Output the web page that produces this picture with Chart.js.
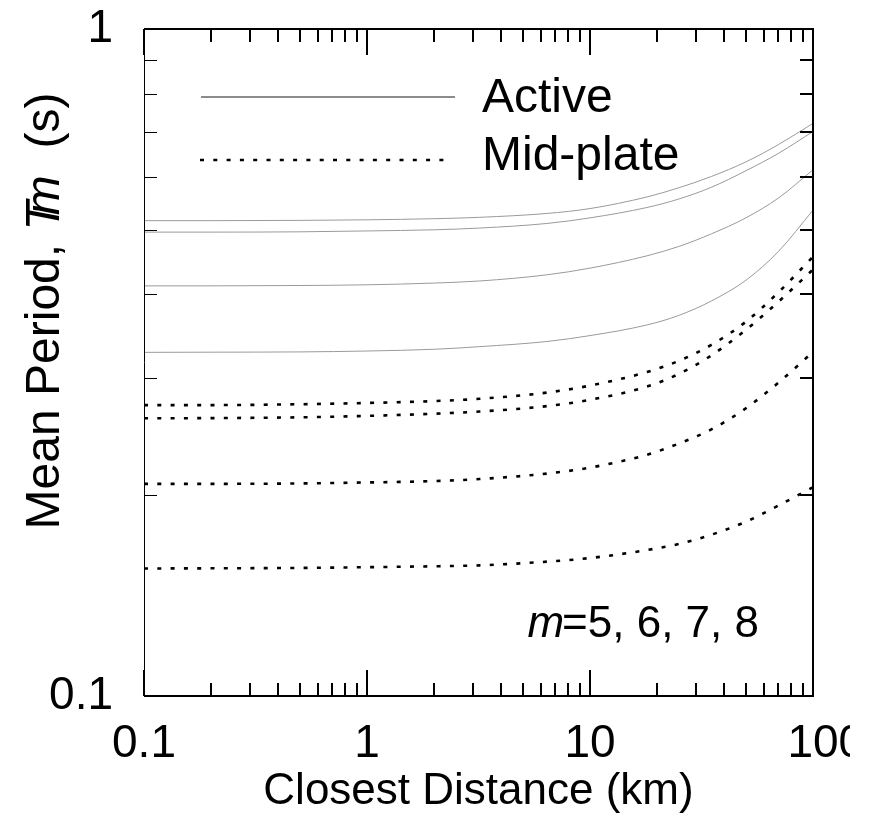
<!DOCTYPE html>
<html><head><meta charset="utf-8">
<script src="https://cdn.jsdelivr.net/npm/chart.js@4.4.1/dist/chart.umd.min.js"></script>
<style>html,body{margin:0;padding:0;background:#fff}#wrap{width:871px;height:820px}</style>
</head><body><div id="wrap"><canvas id="c" width="871" height="820"></canvas></div>
<script>
// ---- data ----
const distances = [0.1, 0.2, 0.5, 1, 2, 3.2, 6.4, 10, 18, 25, 35, 50, 70, 100];
// Active tectonic regions, m = 8, 7, 6, 5
const activeM8 = [0.516, 0.516, 0.5165, 0.5175, 0.5195, 0.522, 0.529, 0.538, 0.560, 0.578, 0.601, 0.632, 0.671, 0.722];
const activeM7 = [0.496, 0.496, 0.4965, 0.498, 0.500, 0.503, 0.511, 0.521, 0.540, 0.556, 0.579, 0.613, 0.651, 0.702];
const activeM6 = [0.412, 0.412, 0.4125, 0.4135, 0.416, 0.419, 0.428, 0.438, 0.457, 0.472, 0.493, 0.521, 0.558, 0.615];
const activeM5 = [0.3275, 0.3277, 0.328, 0.329, 0.331, 0.334, 0.340, 0.347, 0.360, 0.372, 0.391, 0.420, 0.464, 0.535];
// Mid-plate regions, m = 8, 7, 6, 5
const midM8 = [0.273, 0.273, 0.2738, 0.275, 0.2768, 0.279, 0.285, 0.292, 0.306, 0.318, 0.336, 0.364, 0.403, 0.4555];
const midM7 = [0.2608, 0.261, 0.2617, 0.263, 0.265, 0.267, 0.272, 0.278, 0.291, 0.304, 0.324, 0.354, 0.390, 0.436];
const midM6 = [0.208, 0.208, 0.2083, 0.209, 0.210, 0.2115, 0.2155, 0.220, 0.230, 0.239, 0.251, 0.270, 0.295, 0.328];
const midM5 = [0.1553, 0.1554, 0.1556, 0.156, 0.1565, 0.157, 0.159, 0.161, 0.1655, 0.169, 0.1745, 0.1825, 0.193, 0.2056];

const xTickValues = [0.1, 1, 10, 100];
const xTickLabels = ['0.1', '1', '10', '  100'];
const yTickValues = [0.1, 1];
const yTickLabels = ['0.1', '1'];
const legendLabels = ['Active', 'Mid-plate'];
const xTitle = 'Closest Distance (km)';
const yTitleParts = ['Mean Period, ', 'T', 'm', '  (s)'];
const noteParts = ['m', '=5, 6, 7, 8'];

// ---- styling ----
const FONT = "'Liberation Sans', Arial, sans-serif";
const ACTIVE_COLOR = '#9a9a9a';
const MID_COLOR = '#000';
const MID_DASH = [4, 9.3];

function pts(vals){ return distances.map((d,i)=>({x:d, y:vals[i]})); }
function activeSet(vals){ return {data:pts(vals), borderColor:ACTIVE_COLOR, borderWidth:1, pointRadius:0, fill:false, cubicInterpolationMode:'monotone'}; }
function midSet(vals){ return {data:pts(vals), borderColor:MID_COLOR, borderWidth:2.6, borderDash:MID_DASH, borderCapStyle:'butt', pointRadius:0, fill:false, cubicInterpolationMode:'monotone'}; }

const decor = {
  id: 'decor',
  afterDraw(chart){
    const {ctx, chartArea:a, scales:{x, y}} = chart;
    ctx.save();
    // the reference figure is cropped just right of the last x label
    ctx.fillStyle = '#fff';
    ctx.fillRect(850, a.bottom + 4, 21, 80);
    ctx.strokeStyle = '#000';
    // x ticks (inside, top and bottom)
    const decades = [0.1, 1, 10];
    ctx.lineWidth = 2;
    ctx.beginPath();
    decades.forEach(d => {
      for (let k = 2; k <= 9; k++){
        const px = Math.round(x.getPixelForValue(d*k));
        ctx.moveTo(px, a.bottom); ctx.lineTo(px, a.bottom - 13);
        ctx.moveTo(px, a.top); ctx.lineTo(px, a.top + 13);
      }
    });
    xTickValues.forEach(v => {
      const px = Math.round(x.getPixelForValue(v));
      ctx.moveTo(px, a.bottom); ctx.lineTo(px, a.bottom - 26);
      ctx.moveTo(px, a.top); ctx.lineTo(px, a.top + 26);
    });
    ctx.stroke();
    // y minor ticks
    const yMinor = [0.2,0.3,0.4,0.5,0.6,0.7,0.8,0.9];
    ctx.lineWidth = 1;
    ctx.beginPath();
    yMinor.forEach(v => { const py = Math.round(y.getPixelForValue(v)) + 0.5; ctx.moveTo(a.left, py); ctx.lineTo(a.left + 13, py); });
    ctx.stroke();
    ctx.lineWidth = 2;
    ctx.beginPath();
    yMinor.forEach(v => { const py = Math.round(y.getPixelForValue(v)); ctx.moveTo(a.right, py); ctx.lineTo(a.right - 13, py); });
    ctx.stroke();
    // frame
    ctx.lineWidth = 2;
    ctx.beginPath();
    ctx.moveTo(a.left, a.top); ctx.lineTo(a.right, a.top); ctx.lineTo(a.right, a.bottom); ctx.lineTo(a.left, a.bottom);
    ctx.stroke();
    ctx.lineWidth = 1;
    ctx.beginPath(); ctx.moveTo(a.left + 0.5, a.top); ctx.lineTo(a.left + 0.5, a.bottom); ctx.stroke();

    // legend
    ctx.lineWidth = 1.5; ctx.strokeStyle = '#666';
    ctx.beginPath(); ctx.moveTo(201, 97); ctx.lineTo(455, 97); ctx.stroke();
    ctx.lineWidth = 2.6; ctx.strokeStyle = '#000'; ctx.setLineDash(MID_DASH);
    ctx.beginPath(); ctx.moveTo(200, 160); ctx.lineTo(447, 160); ctx.stroke();
    ctx.setLineDash([]);
    ctx.fillStyle = '#000';
    ctx.textBaseline = 'alphabetic'; ctx.textAlign = 'left';
    ctx.font = '48px ' + FONT;
    ctx.fillText(legendLabels[0], 482, 112);
    ctx.fillText(legendLabels[1], 482, 170);

    // note m=5, 6, 7, 8
    const NF = 44;
    ctx.font = 'italic ' + NF + 'px ' + FONT;
    const wM = ctx.measureText(noteParts[0]).width;
    ctx.font = NF + 'px ' + FONT;
    const wR = ctx.measureText(noteParts[1]).width;
    let nx = 759 - (wM + wR - 2);
    ctx.font = 'italic ' + NF + 'px ' + FONT;
    ctx.fillText(noteParts[0], nx, 637);
    ctx.font = NF + 'px ' + FONT;
    ctx.fillText(noteParts[1], nx + wM - 2, 637);

    // y title (rotated)
    ctx.translate(46, 311);
    ctx.rotate(-Math.PI/2);
    ctx.textBaseline = 'middle';
    const fN = '48px ' + FONT, fI = 'italic 48px ' + FONT;
    const fonts = [fN, fI, fI, fN];
    const offs = [0, 0, -14, 0];
    let widths = yTitleParts.map((t,i)=>{ ctx.font = fonts[i]; return ctx.measureText(t).width; });
    let total = widths.reduce((s,w)=>s+w,0) + offs.reduce((s,o)=>s+o,0);
    let cx = -total/2;
    yTitleParts.forEach((t,i)=>{ cx += offs[i]; ctx.font = fonts[i]; ctx.fillText(t, cx, 0); cx += widths[i]; });
    ctx.restore();
  }
};

new Chart(document.getElementById('c'), {
  type: 'line',
  data: {
    datasets: [
      activeSet(activeM8), activeSet(activeM7), activeSet(activeM6), activeSet(activeM5),
      midSet(midM8), midSet(midM7), midSet(midM6), midSet(midM5)
    ]
  },
  options: {
    responsive: false,
    animation: false,
    devicePixelRatio: 1,
    layout: { padding: { top: 29, right: 58, left: 0, bottom: 0 } },
    plugins: { legend: { display: false }, tooltip: { enabled: false } },
    scales: {
      x: {
        type: 'logarithmic', min: 0.1, max: 100, position: 'bottom',
        grid: { display: false, drawTicks: false }, border: { display: false },
        afterBuildTicks: s => { s.ticks = xTickValues.map(v => ({ value: v })); },
        ticks: { autoSkip: false, maxRotation: 0, padding: 21, color: '#000',
                 font: { family: FONT, size: 46 },
                 callback: (v, i) => xTickLabels[i] },
        title: { display: true, text: xTitle, color: '#000', font: { family: FONT, size: 44 }, padding: { top: 0, bottom: 2 } },
        afterFit: s => { s.height = 124; s.paddingLeft = 0; s.paddingRight = 0; }
      },
      y: {
        type: 'logarithmic', min: 0.1, max: 1, position: 'left',
        grid: { display: false, drawTicks: false }, border: { display: false },
        afterBuildTicks: s => { s.ticks = yTickValues.map(v => ({ value: v })); },
        ticks: { autoSkip: false, padding: 31, color: '#000',
                 font: { family: FONT, size: 46 },
                 callback: (v, i) => yTickLabels[i] },
        afterFit: s => { s.width = 144; s.paddingTop = 0; s.paddingBottom = 0; }
      }
    }
  },
  plugins: [decor]
});
</script></body></html>
